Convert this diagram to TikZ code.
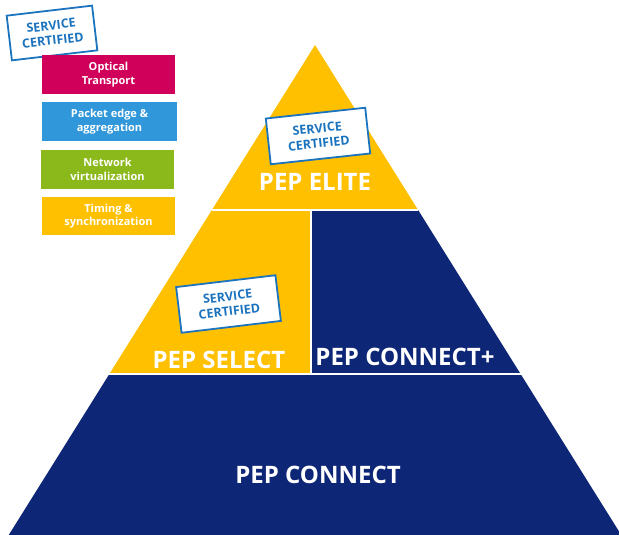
\documentclass[tikz,border=0pt]{standalone}
\usepackage{fontspec}
\setmainfont{Open Sans}
\definecolor{pepgold}{HTML}{FFC000}
\definecolor{pepnavy}{HTML}{0E2676}
\definecolor{stampblue}{HTML}{1C74BF}
\definecolor{optred}{HTML}{D0005A}
\definecolor{pktblue}{HTML}{3097DA}
\definecolor{netgreen}{HTML}{8BB81B}
\begin{document}
\begin{tikzpicture}[x=1pt,y=-1pt,
  tier/.style={font=\bfseries\fontsize{24}{26}\selectfont, text=white, anchor=base, inner sep=0pt},
  stamp/.style={draw=stampblue, line width=1.8pt, fill=white, text=stampblue,
    font=\bfseries\fontsize{12.5}{15}\selectfont, align=center,
    minimum width=100pt, minimum height=46pt, inner sep=0pt},
  legendbox/.style={text=white, font=\bfseries\fontsize{11}{13.5}\selectfont, align=center,
    minimum width=133pt, minimum height=39pt, inner sep=0pt},
  divider/.style={white, line width=1.6pt}
]
\useasboundingbox (0,0) rectangle (619,535);
\clip (0,0) rectangle (619,535);

% pyramid outline points
\coordinate (apex) at (315,45);
\coordinate (l1) at (211.9,210);
\coordinate (m1) at (311,210);
\coordinate (r1) at (418.1,210);
\coordinate (l2) at (109.4,374);
\coordinate (m2) at (311,374);
\coordinate (r2) at (520.6,374);
\coordinate (l3) at (8.75,535);
\coordinate (r3) at (621.25,535);

% tiers
\fill[pepgold] (apex) -- (l1) -- (r1) -- cycle;
\fill[pepgold] (l1) -- (m1) -- (m2) -- (l2) -- cycle;
\fill[pepnavy] (m1) -- (r1) -- (r2) -- (m2) -- cycle;
\fill[pepnavy] (l2) -- (r2) -- (r3) -- (l3) -- cycle;

% separators between tiers
\draw[divider] (l1) -- (r1);
\draw[divider] (m1) -- (m2);
\draw[divider] (l2) -- (r2);

% tier labels
\node[tier] (elite) at (315,190) {PEP ELITE};
\node[tier] (select) at (219,368) {PEP SELECT};
\node[tier] (connectplus) at (405,365) {PEP CONNECT+};
\node[tier] (connect) at (318,483) {PEP CONNECT};

% certification stamps
\node[stamp, rotate=6.2] (stampelite) at (318,136) {SERVICE\\CERTIFIED};
\node[stamp, rotate=6.8] (stampselect) at (228.5,304) {SERVICE\\CERTIFIED};
\node[stamp, rotate=6.7, minimum width=86pt, minimum height=45pt] (stamplegend) at (52,33) {SERVICE\\CERTIFIED};

% legend
\node[legendbox, fill=optred] (optical) at (108.5,74.5) {Optical\\Transport};
\node[legendbox, fill=pktblue, minimum width=135pt] (packet) at (109.5,121.5) {Packet edge \&\\aggregation};
\node[legendbox, fill=netgreen] (network) at (107.5,169.5) {Network\\virtualization};
\node[legendbox, fill=pepgold, minimum height=38pt] (timing) at (108.5,216) {Timing \&\\synchronization};
\end{tikzpicture}
\end{document}
